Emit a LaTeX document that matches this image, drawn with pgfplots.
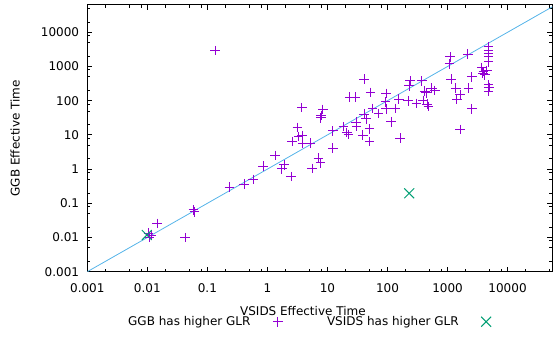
\documentclass[border=0pt]{standalone}
\usepackage{fontspec}
\setmainfont{DejaVu Sans}
\usepackage{pgfplots}
\pgfplotsset{compat=1.18}
\definecolor{ggb}{HTML}{9400D3}
\definecolor{vsids}{HTML}{009E73}
\definecolor{diag}{HTML}{56B4E9}
\begin{document}
\fontsize{12bp}{14bp}\selectfont
\begin{tikzpicture}
\path[use as bounding box] (-87.3bp,-66.3bp) rectangle (465.7bp,271.7bp);
\begin{axis}[
  at={(0,0)}, anchor=south west,
  xmode=log, ymode=log, scale only axis,
  width=465bp, height=266.7bp,
  xmin=0.001, xmax=55600, ymin=0.001, ymax=62800,
  xtick={0.001,0.01,0.1,1,10,100,1000,10000},
  xticklabels={0.001,0.01,0.1,1,10,100,1000,10000},
  ytick={0.001,0.01,0.1,1,10,100,1000,10000},
  yticklabels={0.001,0.01,0.1,1,10,100,1000,10000},
  minor xtick={0.002,0.005,0.008,0.02,0.05,0.08,0.2,0.5,0.8,2,5,8,20,50,80,200,500,800,2000,5000,8000,20000,50000},
  minor ytick={0.002,0.005,0.008,0.02,0.05,0.08,0.2,0.5,0.8,2,5,8,20,50,80,200,500,800,2000,5000,8000,20000,50000},
  tick align=inside, major tick length=5bp, minor tick length=3bp,
  axis line style={line width=1bp},
  every tick/.style={black, line width=0.8bp},
  xticklabel style={yshift=-7.5bp},
  yticklabel style={xshift=-4bp},
  /pgf/number format/assume math mode=true,
  xlabel={VSIDS Effective Time}, ylabel={GGB Effective Time},
  xlabel style={at={(axis description cs:0.4637,-0.148)}, anchor=center},
  ylabel style={at={(axis description cs:-0.155,0.5)}, anchor=center},
  legend plot pos=right,
  legend cell align=right,
  legend columns=2,
  legend style={draw=none, fill=none, inner sep=0pt, outer sep=0pt,
    at={(axis description cs:0.0836,-0.1875)}, anchor=west,
    /tikz/every odd column/.append style={column sep=20.5bp},
    /tikz/every even column/.append style={column sep=42.5bp}},
  clip=true,
]
\addplot[diag, line width=0.8bp, forget plot] coordinates {(0.001,0.001) (100000,100000)};
\addplot[only marks, mark=+, mark size=4.8bp, color=ggb, mark options={draw=ggb, line width=1bp}] table {
x y
0.0104 0.0133
0.0118 0.0118
0.0108 0.0101
0.0145 0.026
0.0425 0.0099
0.0585 0.0637
0.0607 0.0567
0.233 0.294
0.409 0.366
0.578 0.503
0.847 1.23
1.34 2.50
1.90 1.32
1.74 1.01
2.48 0.60
5.56 1.05
7.08 2.07
7.70 1.51
0.134 2897
3.74 62.4
8.38 55.3
7.85 36.9
7.76 31.2
3.16 16.4
3.31 8.98
3.79 9.60
2.58 6.33
3.89 5.68
5.25 5.68
12.3 4.06
12.3 13.0
18.5 17.4
21.1 11.8
22.4 10.3
30.1 23.8
30.7 18.2
38.9 9.93
50.5 14.9
50.5 6.41
40.9 40.8
44.2 29.2
23.4 128
28.9 128
40.9 423
52.5 174
56.7 59.9
70.8 42.3
95.1 162
93.3 91.6
95.1 57.2
115 24.3
134 59.9
155 112
163 7.96
221 98
304 82.8
239 377
230 269
374 377
417 192
442 168
545 235
612 199
394 101
459 80
482 67.7
1109 1897
1080 1183
2188 2273
1153 425
1370 231
1629 147
1435 112
2239 231
2551 493
2551 58
1629 14.4
4823 3715
4823 2977
4823 2399
4823 1935
4823 1380
3743 935
3981 705
4500 764
4168 564
3890 633
4823 288
4955 243
4823 192
};
\addlegendentry{GGB has higher GLR}
\addplot[only marks, mark=x, mark size=7bp, color=vsids, mark options={draw=vsids, line width=1bp}] table {
x y
0.0098 0.0118
230 0.196
};
\addlegendentry{VSIDS has higher GLR}
\end{axis}
\end{tikzpicture}
\end{document}
